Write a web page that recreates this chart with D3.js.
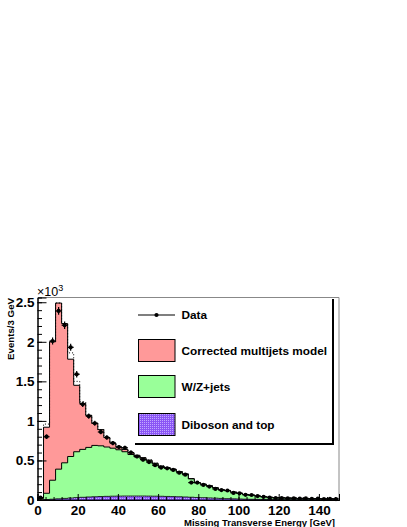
<!DOCTYPE html>
<html>
<head>
<meta charset="utf-8">
<script src="https://cdn.jsdelivr.net/npm/d3@7"></script>
<style>
  html, body { margin: 0; padding: 0; background: #fff; }
  svg { display: block; }
  text { font-family: "Liberation Sans", Arial, Helvetica, sans-serif; }
</style>
</head>
<body>
<svg id="chart" width="407" height="527"></svg>
<script>
// ---- data (events per 3 GeV bin, 0..150 GeV) ----
const binLow = d3.range(0, 150, 3);
const dataCounts = [30, 800, 2010, 2390, 2210, 1930, 1590, 1210, 1060, 970,
  860, 790, 720, 670, 660, 600, 550, 510, 480, 440,
  410, 400, 380, 345, 320, 220, 220, 190, 170, 140,
  125, 120, 90, 85, 65, 63, 50, 40, 30, 25,
  25, 20, 22, 18, 20, 15, 18, 12, 15, 12];
const dibosonTop = [0, 5, 10, 15, 20, 25, 30, 34, 38, 41,
  44, 46, 48, 49, 50, 50, 50, 50, 49, 48,
  47, 45, 43, 41, 38, 35, 32, 29, 26, 23,
  20, 17, 15, 13, 11, 9, 8, 7, 6, 5,
  4, 4, 3, 3, 3, 2, 2, 2, 2, 2];
const wzJets = [20, 80, 240, 375, 450, 525, 580, 606, 627, 649,
  641, 624, 607, 586, 560, 525, 495, 470, 446, 409,
  377, 360, 343, 315, 289, 232, 185, 169, 152, 130,
  108, 101, 83, 71, 58, 50, 41, 34, 28, 24,
  22, 20, 19, 16, 15, 15, 14, 13, 12, 11];
const multijets = [10, 835, 1750, 2100, 1760, 1230, 840, 580, 405, 280,
  205, 120, 65, 35, 30, 25, 20, 15, 10, 8,
  6, 5, 4, 4, 3, 3, 3, 2, 2, 2,
  2, 2, 2, 1, 1, 1, 1, 1, 1, 1,
  1, 1, 1, 1, 1, 1, 1, 1, 1, 1];
const dottedModel = [30, 960, 2000, 2490, 2230, 1860, 1500, 1240, 1070, 970,
  890, 790, 720, 670, 640, 600, 565, 535, 505, 465,
  430, 410, 390, 360, 330, 270, 220, 200, 180, 155,
  130, 120, 100, 85, 70, 60, 50, 42, 35, 30,
  27, 25, 23, 20, 19, 18, 17, 16, 15, 14];
const yMajorTicks = [0, 500, 1000, 1500, 2000, 2500];
const xMajorTicks = [0, 20, 40, 60, 80, 100, 120, 140];
const legendLabels = ["Data", "Corrected multijets model", "W/Z+jets", "Diboson and top"];

// ---- layout ----
const L = 37.5, R = 339, T = 297.5, B = 500;
const svg = d3.select("#chart");
const x = d3.scaleLinear().domain([0, 150]).range([L, R]);
const y = d3.scaleLinear().domain([0, 2560]).range([B, T]);

const colRed = "#ff9999", colGreen = "#99ff99";

const defs = svg.append("defs");
const pat = defs.append("pattern").attr("id", "dots").attr("patternUnits", "userSpaceOnUse")
  .attr("width", 2).attr("height", 2);
pat.append("rect").attr("width", 2).attr("height", 2).attr("fill", "#8a55f5");
pat.append("rect").attr("width", 1).attr("height", 1).attr("fill", "#c2a8ff");

const cum1 = dibosonTop.slice();
const cum2 = cum1.map((v, i) => v + wzJets[i]);
const cum3 = cum2.map((v, i) => v + multijets[i]);

function pts(vals) {
  const p = binLow.map((b, i) => ({x: b, v: vals[i]}));
  p.push({x: 150, v: vals[vals.length - 1]});
  return p;
}
const area = d3.area().x(d => x(d.x)).y0(y(0)).y1(d => y(d.v)).curve(d3.curveStepAfter);
const line = d3.line().x(d => x(d.x)).y(d => y(d.v)).curve(d3.curveStepAfter);

// stacked histograms
svg.append("path").attr("d", area(pts(cum3))).attr("fill", colRed).attr("stroke", "#000").attr("stroke-width", 1);
svg.append("path").attr("d", line(pts(dottedModel))).attr("fill", "none").attr("stroke", "#000")
  .attr("stroke-width", 1).attr("stroke-dasharray", "1,2");
svg.append("path").attr("d", area(pts(cum2))).attr("fill", colGreen).attr("stroke", "#000").attr("stroke-width", 1);
svg.append("path").attr("d", area(pts(cum1))).attr("fill", "url(#dots)").attr("stroke", "#000").attr("stroke-width", 0.8);

// data points with error bars
const g = svg.append("g");
binLow.forEach((b, i) => {
  const v = dataCounts[i];
  const e = Math.sqrt(v);
  g.append("line").attr("x1", x(b)).attr("x2", x(b + 3)).attr("y1", y(v)).attr("y2", y(v))
    .attr("stroke", "#000").attr("stroke-width", 1.2);
  g.append("line").attr("x1", x(b + 1.5)).attr("x2", x(b + 1.5)).attr("y1", y(v - e)).attr("y2", y(v + e))
    .attr("stroke", "#000").attr("stroke-width", 1.2);
  g.append("circle").attr("cx", x(b + 1.5)).attr("cy", y(v)).attr("r", 2.1).attr("fill", "#000");
});

// frame
svg.append("line").attr("x1", L).attr("x2", R).attr("y1", T).attr("y2", T).attr("stroke", "#888");
svg.append("line").attr("x1", R).attr("x2", R).attr("y1", T).attr("y2", B).attr("stroke", "#888");

// axes
const yAxis = d3.axisLeft(y).tickValues(yMajorTicks).tickSize(-9).tickPadding(3)
  .tickFormat(d => String(d / 1000));
const yMinor = d3.axisLeft(y).tickValues(d3.range(0, 2561, 100)).tickSize(-4.5).tickFormat("");
const xAxis = d3.axisBottom(x).tickValues(xMajorTicks).tickSize(-6).tickPadding(5.5).tickFormat(d => String(d));
const xMinor = d3.axisBottom(x).tickValues(d3.range(0, 151, 4)).tickSize(-3).tickFormat("");

function styleAxis(sel) {
  sel.select(".domain").attr("stroke", "#000").attr("stroke-width", 1);
  sel.selectAll(".tick line").attr("stroke", "#000").attr("stroke-width", 1);
  sel.selectAll("text").attr("font-size", 13.5).attr("font-weight", "bold").attr("fill", "#000")
    .attr("font-family", "Liberation Sans, Arial, sans-serif");
}
svg.append("g").attr("transform", `translate(${L},0)`).call(yMinor).call(styleAxis);
svg.append("g").attr("transform", `translate(${L},0)`).call(yAxis).call(styleAxis);
svg.append("g").attr("transform", `translate(0,${B})`).call(xMinor).call(styleAxis);
svg.append("g").attr("transform", `translate(0,${B})`).call(xAxis).call(styleAxis);

// exponent label
const ex = svg.append("text").attr("x", 37).attr("y", 296).attr("font-size", 12.5).attr("fill", "#000");
ex.append("tspan").text("\u00d710");
ex.append("tspan").attr("dy", -5).attr("font-size", 9).text("3");

// axis titles
svg.append("text").attr("transform", `translate(13.5,298) rotate(-90)`).attr("text-anchor", "end")
  .attr("font-size", 9.7).attr("font-weight", "bold").text("Events/3 GeV");
svg.append("text").attr("x", 335).attr("y", 525.5).attr("text-anchor", "end")
  .attr("font-size", 9.5).attr("font-weight", "bold").text("Missing Transverse Energy [GeV]");

// legend
const lg = svg.append("g");
lg.append("line").attr("x1", 333).attr("x2", 333).attr("y1", 299).attr("y2", 445).attr("stroke", "#000").attr("stroke-width", 2);
lg.append("line").attr("x1", 135).attr("x2", 334).attr("y1", 444).attr("y2", 444).attr("stroke", "#000").attr("stroke-width", 2);
const rowsY = [315, 350.5, 386.5, 424.5];
lg.append("line").attr("x1", 138).attr("x2", 175).attr("y1", rowsY[0]).attr("y2", rowsY[0]).attr("stroke", "#000").attr("stroke-width", 1.2);
lg.append("circle").attr("cx", 156.5).attr("cy", rowsY[0]).attr("r", 2.1).attr("fill", "#000");
const fills = [null, colRed, colGreen, "url(#dots)"];
for (let k = 1; k < 4; k++) {
  lg.append("rect").attr("x", 138.5).attr("y", rowsY[k] - 11).attr("width", 36.5).attr("height", 22)
    .attr("fill", fills[k]).attr("stroke", "#000").attr("stroke-width", 1);
}
legendLabels.forEach((t, k) => {
  lg.append("text").attr("x", 181.5).attr("y", rowsY[k] + 4).attr("font-size", 11.8)
    .attr("font-weight", "bold").attr("fill", "#000").text(t);
});
</script>
</body>
</html>
